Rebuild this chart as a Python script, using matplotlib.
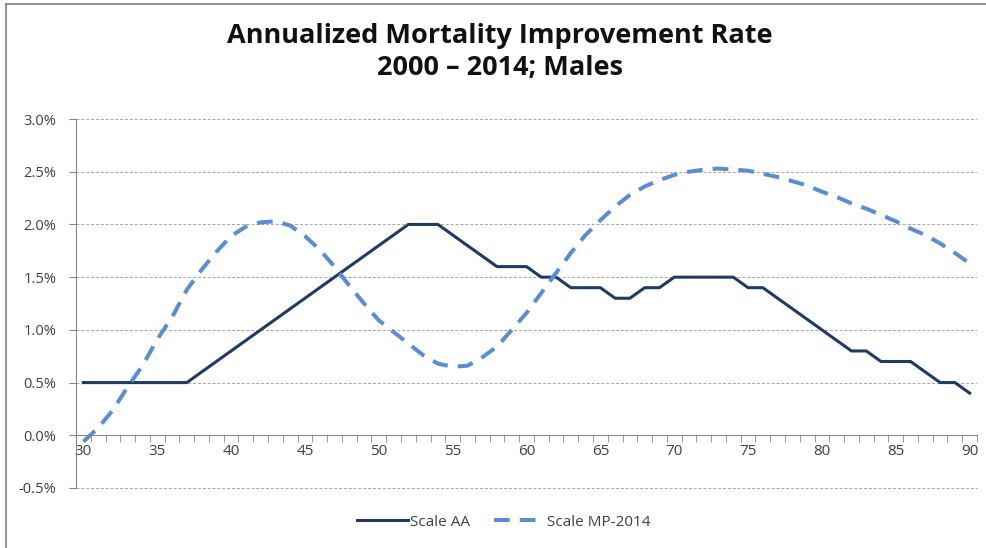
import matplotlib
matplotlib.use("Agg")
import matplotlib.pyplot as plt
from matplotlib.ticker import FuncFormatter, MultipleLocator, FixedLocator
from matplotlib.lines import Line2D

ages = list(range(30, 91))

# Scale AA, % per year
scale_aa = [0.5, 0.5, 0.5, 0.5, 0.5, 0.5, 0.5, 0.5, 0.6, 0.7,
            0.8, 0.9, 1.0, 1.1, 1.2, 1.3, 1.4, 1.5, 1.6, 1.7,
            1.8, 1.9, 2.0, 2.0, 2.0, 1.9, 1.8, 1.7, 1.6, 1.6,
            1.6, 1.5, 1.5, 1.4, 1.4, 1.4, 1.3, 1.3, 1.4, 1.4,
            1.5, 1.5, 1.5, 1.5, 1.5, 1.4, 1.4, 1.3, 1.2, 1.1,
            1.0, 0.9, 0.8, 0.8, 0.7, 0.7, 0.7, 0.6, 0.5, 0.5,
            0.4]

# Scale MP-2014, % per year
scale_mp = [-0.06, 0.07, 0.24, 0.46, 0.66, 0.91, 1.12, 1.38, 1.57, 1.74,
            1.89, 1.98, 2.02, 2.03, 1.99, 1.89, 1.76, 1.60, 1.42, 1.25,
            1.09, 0.98, 0.87, 0.76, 0.68, 0.65, 0.66, 0.74, 0.84, 1.00,
            1.16, 1.35, 1.54, 1.73, 1.90, 2.04, 2.17, 2.28, 2.36, 2.42,
            2.47, 2.50, 2.52, 2.53, 2.52, 2.51, 2.48, 2.45, 2.41, 2.37,
            2.31, 2.26, 2.20, 2.15, 2.09, 2.03, 1.96, 1.90, 1.82, 1.73,
            1.63]

x_labels = [30, 35, 40, 45, 50, 55, 60, 65, 70, 75, 80, 85, 90]

title = "Annualized Mortality Improvement Rate\n2000 \u2013 2014; Males"

plt.rcParams['font.family'] = ['Open Sans', 'DejaVu Sans']

fig = plt.figure(figsize=(9.86, 5.48), dpi=100)
ax = fig.add_axes([0.0771, 0.1095, 0.9138, 0.6733])

ax.plot(ages, scale_aa, color='#1F3A63', lw=2.2, label='Scale AA')
ax.plot(ages, scale_mp, color='#5A8ED2', lw=2.9, label='Scale MP-2014',
        dashes=(3.9, 2.5))

# category style axis: ticks sit between ages
ax.set_xlim(29.5, 90.5)
ax.set_ylim(-0.5, 3.0)
ax.yaxis.set_major_locator(MultipleLocator(0.5))
ax.yaxis.set_major_formatter(FuncFormatter(lambda v, p: '%.1f%%' % v))
ax.xaxis.set_major_locator(FixedLocator(x_labels))
ax.xaxis.set_minor_locator(FixedLocator([a + 0.5 for a in range(29, 91)]))
ax.grid(axis='y', color='#A6A6A6', lw=0.7, linestyle=(0, (3, 2)))
ax.axhline(-0.5, color='#A6A6A6', lw=0.7, linestyle=(0, (3, 2)), clip_on=False,
           zorder=0.5)
ax.set_axisbelow(True)

for s in ['top', 'right']:
    ax.spines[s].set_visible(False)
ax.spines['bottom'].set_position(('data', 0))
ax.spines['bottom'].set_color('#868686')
ax.spines['left'].set_color('#868686')
ax.tick_params(axis='x', which='major', length=0, labelsize=11,
               labelcolor='#404040', pad=6)
ax.tick_params(axis='x', which='minor', direction='out', length=5,
               color='#868686')
ax.tick_params(axis='y', direction='out', length=5, color='#868686',
               labelsize=10.5, labelcolor='#404040', pad=9)

fig.suptitle(title, x=0.507, y=0.958, fontsize=19.5, fontweight='bold',
             color='#111111', linespacing=1.3)

fig.legend(*ax.get_legend_handles_labels(), loc='center',
           bbox_to_anchor=(0.511, 0.047), ncol=2, frameon=False,
           fontsize=11, handlelength=3.3, columnspacing=1.6, handletextpad=0.15,
           labelcolor='#404040')

# chart border (left and top edges visible)
fig.add_artist(Line2D([0.0065, 0.0065], [0, 0.993], transform=fig.transFigure,
                      color='#808080', lw=1.2))
fig.add_artist(Line2D([0.0065, 1], [0.993, 0.993], transform=fig.transFigure,
                      color='#808080', lw=1.2))

fig.savefig('out.png', dpi=100)
